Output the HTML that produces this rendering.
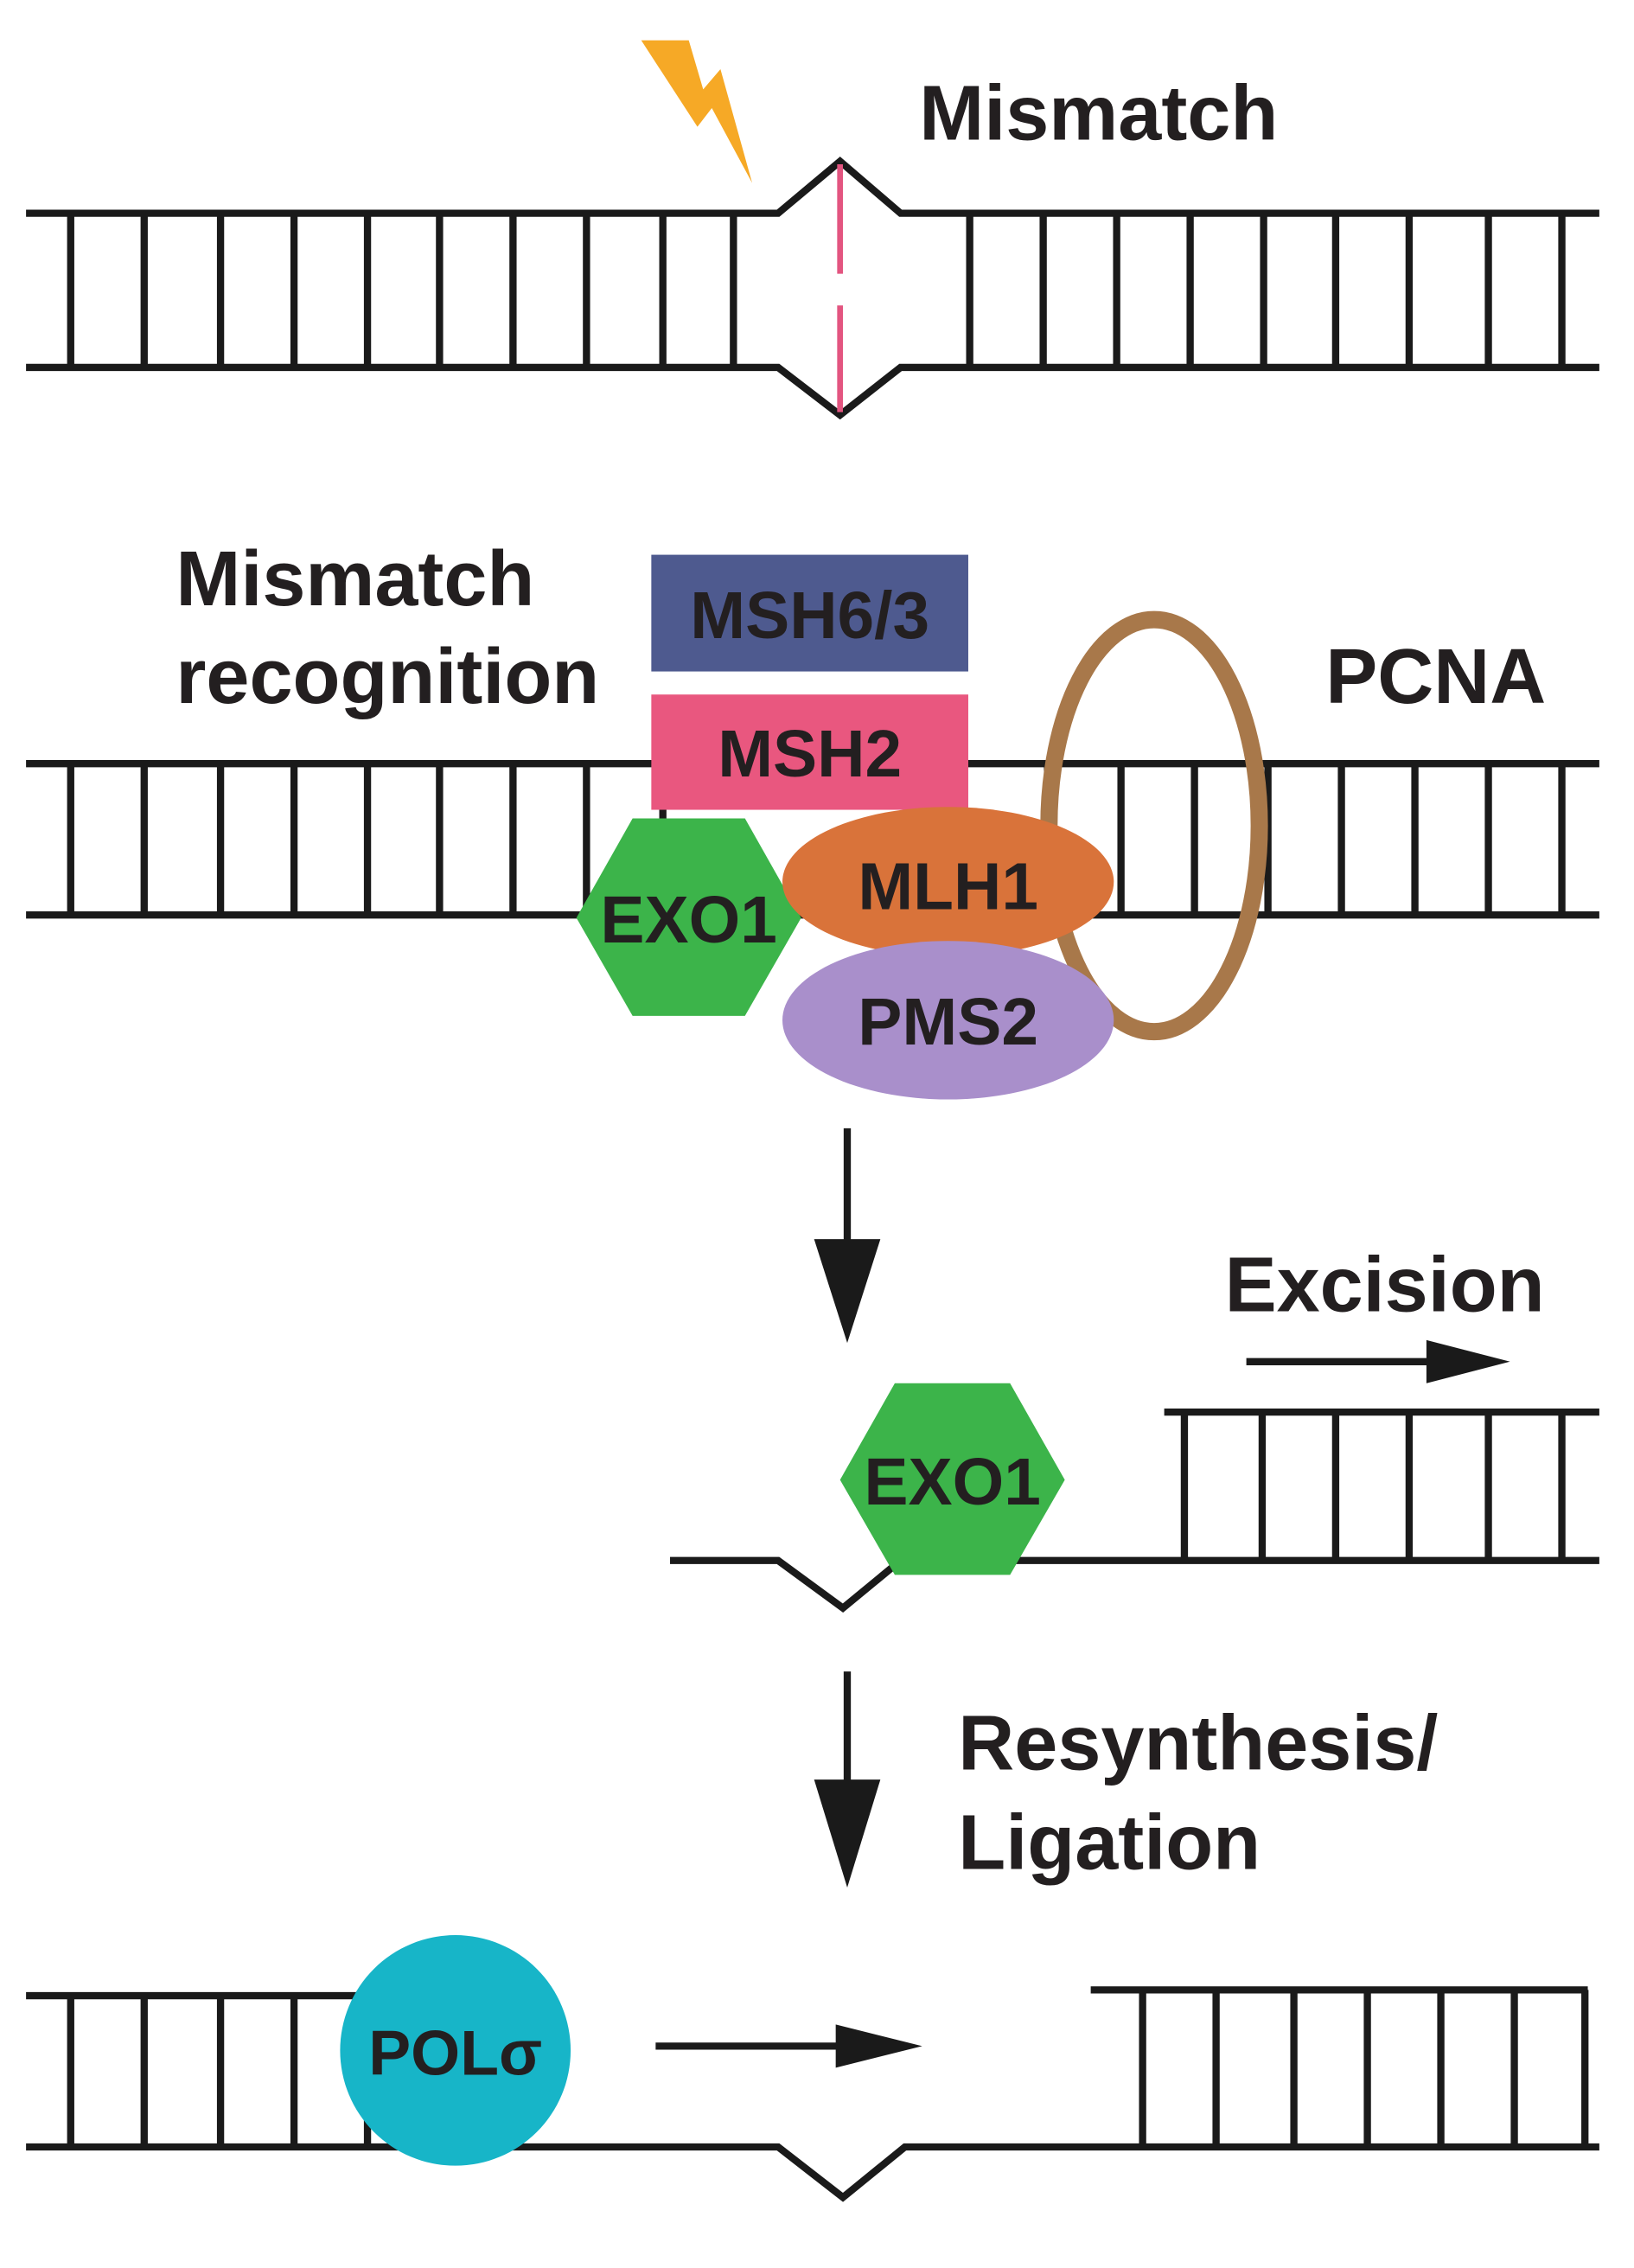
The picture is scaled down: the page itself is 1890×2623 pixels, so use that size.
<!DOCTYPE html>
<html><head><meta charset="utf-8"><style>
html,body{margin:0;padding:0;background:#fff;}
svg{display:block;}
text{font-family:"Liberation Sans",sans-serif;font-weight:bold;fill:#231f20;}
</style></head><body>
<svg width="1890" height="2623" viewBox="0 0 1134 1574" xmlns="http://www.w3.org/2000/svg">
<g stroke="#1a1a1a" stroke-width="5" fill="none" stroke-linecap="butt" stroke-linejoin="miter">
<path d="M18 148 H540 L583 112 L625 148 H1110"/>
<path d="M18 255 H540 L583 288 L625 255 H1110"/>
<path d="M49 148V255M100 148V255M153 148V255M204 148V255M255 148V255M305 148V255M356 148V255M407 148V255M460 148V255M509 148V255M673 148V255M724 148V255M775 148V255M826 148V255M877 148V255M927 148V255M978 148V255M1033 148V255M1084 148V255"/>
<path d="M18 530 H1110"/>
<path d="M18 635 H1110"/>
<path d="M49 530V635M100 530V635M153 530V635M204 530V635M255 530V635M305 530V635M356 530V635M407 530V635M460 530V635M727 530V635M778 530V635M829 530V635M880 530V635M931 530V635M982 530V635M1033 530V635M1084 530V635"/>
<path d="M808 980 H1110"/>
<path d="M465 1083 H540 L585 1116 L625 1083 H1110"/>
<path d="M822 980V1083M876 980V1083M927 980V1083M978 980V1083M1033 980V1083M1084 980V1083"/>
<path d="M18 1385 H250"/>
<path d="M757 1381 H1102"/>
<path d="M18 1490 H540 L585 1525 L628 1490 H1110"/>
<path d="M49 1385V1490M100 1385V1490M153 1385V1490M204 1385V1490M255 1385V1490M793 1381V1490M844 1381V1490M898 1381V1490M949 1381V1490M1000 1381V1490M1051 1381V1490M1100 1381V1490"/>
<path d="M588 783 V865"/>
<path d="M588 1160 V1240"/>
<path d="M865 945 H995"/>
<path d="M455 1420 H585"/>
</g>
<g fill="#1a1a1a">
<polygon points="565,860 611,860 588,932"/>
<polygon points="565,1235 611,1235 588,1310"/>
<polygon points="990,930 1048,945 990,960"/>
<polygon points="580,1405 640,1420 580,1435"/>
</g>
<path d="M583 114 V190 M583 212 V286" stroke="#e35580" stroke-width="4"/>
<polygon points="445,28 478,28 488,62 500,48 522,127 494,75 484,88" fill="#f6a926"/>
<text x="638" y="97" font-size="54">Mismatch</text>
<text x="122" y="420" font-size="54">Mismatch</text>
<text x="122" y="488" font-size="54">recognition</text>
<text x="920" y="488" font-size="54">PCNA</text>
<text x="850" y="910" font-size="54">Excision</text>
<text x="665" y="1228" font-size="54">Resynthesis/</text>
<text x="665" y="1297" font-size="54">Ligation</text>
<rect x="452" y="385" width="220" height="81" fill="#4e5a8f"/>
<text x="562" y="443" font-size="46" text-anchor="middle">MSH6/3</text>
<rect x="452" y="482" width="220" height="80" fill="#e9577f"/>
<text x="562" y="539" font-size="46" text-anchor="middle">MSH2</text>
<ellipse cx="801" cy="573" rx="73" ry="143" fill="none" stroke="#a8784a" stroke-width="12"/>
<polygon points="400,637 439,568 517,568 556,637 517,705 439,705" fill="#3cb44a"/>
<text x="478" y="654" font-size="46" text-anchor="middle">EXO1</text>
<ellipse cx="658" cy="612" rx="115" ry="52" fill="#d9733a"/>
<text x="658" y="631" font-size="46" text-anchor="middle">MLH1</text>
<ellipse cx="658" cy="708" rx="115" ry="55" fill="#a98fcb"/>
<text x="658" y="725" font-size="46" text-anchor="middle">PMS2</text>
<polygon points="583,1027 621,960 701,960 739,1027 701,1093 621,1093" fill="#3cb44a"/>
<text x="661" y="1044" font-size="46" text-anchor="middle">EXO1</text>
<ellipse cx="316" cy="1423" rx="80" ry="80" fill="#17b5c8"/>
<text x="316" y="1440" font-size="44" text-anchor="middle">POLσ</text>
</svg>
</body></html>
